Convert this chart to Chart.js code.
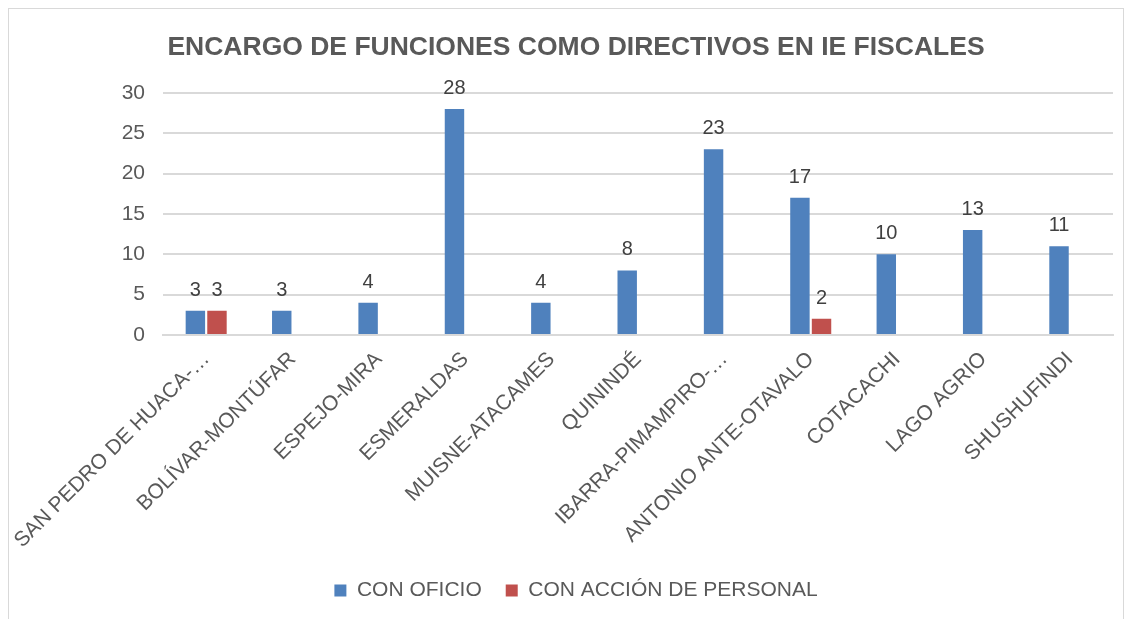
<!DOCTYPE html>
<html>
<head>
<meta charset="utf-8">
<script src="https://cdn.jsdelivr.net/npm/chart.js@4"></script>
<style>
  html, body { margin: 0; padding: 0; background: #ffffff; }
  #wrap { position: relative; width: 1133px; height: 619px; overflow: hidden; }
  #frame { position: absolute; left: 8px; top: 8px; width: 1116px; height: 640px; border: 1px solid #d9d9d9; box-sizing: border-box; pointer-events: none; }
  canvas { position: absolute; left: 0; top: 0; }
</style>
</head>
<body>
<div id="wrap">
  <canvas id="c" width="1133" height="619"></canvas>
  <div id="frame"></div>
</div>
<script>
const categories = [
  "SAN PEDRO DE HUACA-…",
  "BOLÍVAR-MONTÚFAR",
  "ESPEJO-MIRA",
  "ESMERALDAS",
  "MUISNE-ATACAMES",
  "QUININDÉ",
  "IBARRA-PIMAMPIRO-…",
  "ANTONIO ANTE-OTAVALO",
  "COTACACHI",
  "LAGO AGRIO",
  "SHUSHUFINDI"
];
const conOficio = [3, 3, 4, 28, 4, 8, 23, 17, 10, 13, 11];
const conAccionPersonal = [3, null, null, null, null, null, null, 2, null, null, null];
const yTicks = [0, 5, 10, 15, 20, 25, 30];
const chartTitle = "ENCARGO DE FUNCIONES COMO DIRECTIVOS EN IE FISCALES";
const seriesNames = ["CON OFICIO", "CON ACCIÓN DE PERSONAL"];

const FONT = "'Liberation Sans', Arial, sans-serif";

const dataLabels = {
  id: 'dataLabels',
  afterDatasetsDraw(chart) {
    const ctx = chart.ctx;
    ctx.save();
    ctx.font = "20px " + FONT;
    ctx.fillStyle = "#404040";
    ctx.textAlign = "center";
    ctx.textBaseline = "alphabetic";
    chart.data.datasets.forEach((ds, i) => {
      const meta = chart.getDatasetMeta(i);
      meta.data.forEach((bar, j) => {
        const v = ds.data[j];
        if (v === null || v === undefined) return;
        ctx.fillText(String(v), bar.x, bar.y - 15);
      });
    });
    ctx.restore();
  }
};

new Chart(document.getElementById('c'), {
  type: 'bar',
  data: {
    labels: categories,
    datasets: [
      { label: seriesNames[0], data: conOficio, backgroundColor: '#4F81BD', categoryPercentage: 0.5, barPercentage: 0.9 },
      { label: seriesNames[1], data: conAccionPersonal, backgroundColor: '#C0504D', categoryPercentage: 0.5, barPercentage: 0.9 }
    ]
  },
  options: {
    responsive: false,
    animation: false,
    layout: { padding: { left: 39, right: 20, top: 14, bottom: 8 } },
    plugins: {
      title: {
        display: true,
        text: chartTitle,
        color: '#595959',
        font: { family: FONT, size: 26.5, weight: 'bold' },
        padding: { top: 18, bottom: 29 }
      },
      legend: {
        position: 'bottom',
        labels: {
          color: '#595959',
          font: { family: FONT, size: 21 },
          boxWidth: 12,
          boxHeight: 12,
          padding: 24
        }
      },
      tooltip: { enabled: false }
    },
    scales: {
      x: {
        grid: { display: false },
        border: { display: true, color: '#d9d9d9', width: 2 },
        ticks: {
          color: '#595959',
          font: { family: FONT, size: 21 },
          maxRotation: 45,
          minRotation: 45,
          autoSkip: false,
          padding: 4
        },
        afterFit(scale) { scale.height = 221; }
      },
      y: {
        min: 0,
        max: 30,
        grid: { color: '#d9d9d9', lineWidth: 2, drawTicks: false },
        border: { display: false },
        ticks: {
          color: '#595959',
          font: { family: FONT, size: 21 },
          stepSize: 5,
          padding: 18
        },
        afterBuildTicks(scale) { scale.ticks = yTicks.map(v => ({ value: v })); },
        afterFit(scale) { scale.width = 124; }
      }
    }
  },
  plugins: [dataLabels]
});
</script>
</body>
</html>
